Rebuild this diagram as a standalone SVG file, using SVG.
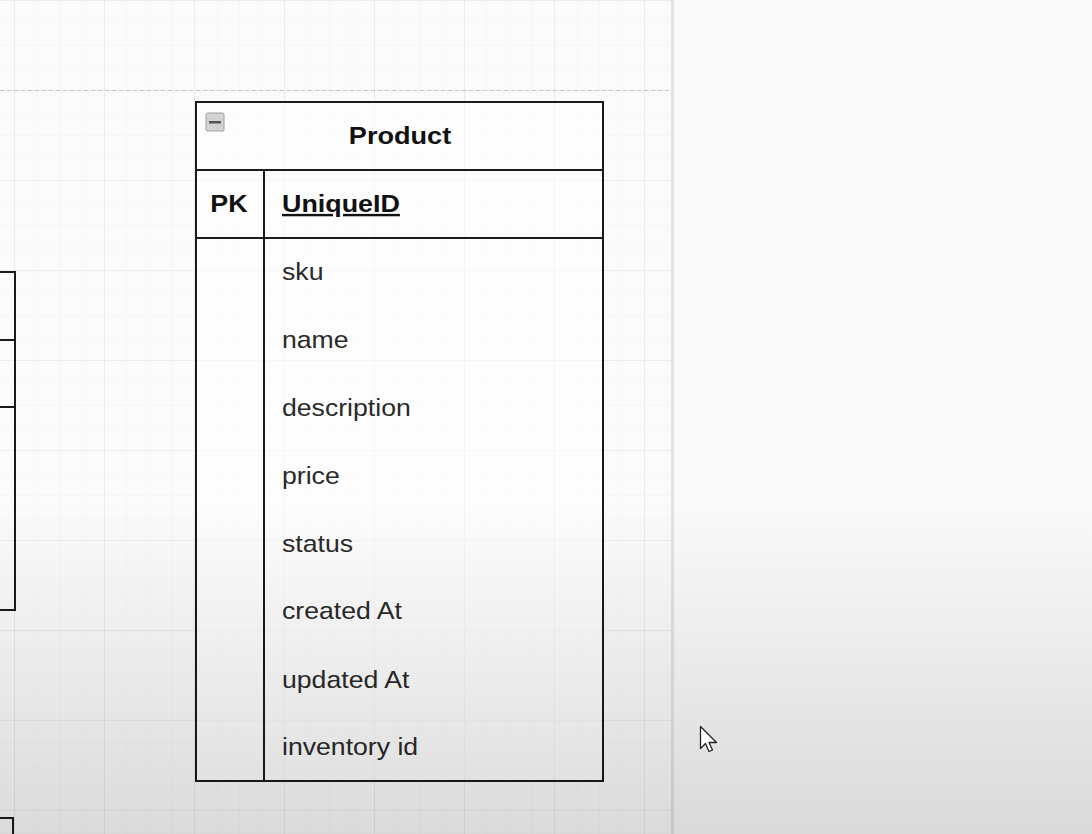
<svg xmlns="http://www.w3.org/2000/svg" width="1092" height="834" viewBox="0 0 1092 834">
  <defs>
    <linearGradient id="shade" x1="0" y1="0" x2="0" y2="1">
      <stop offset="0" stop-color="#000" stop-opacity="0"/>
      <stop offset="0.6" stop-color="#000" stop-opacity="0"/>
      <stop offset="1" stop-color="#000" stop-opacity="0.13"/>
    </linearGradient>
    <pattern id="minor" width="22.5" height="22.5" patternUnits="userSpaceOnUse" x="14" y="0">
      <path d="M0 0V22.5M0 0H22.5" fill="none" stroke="#f2f2f2" stroke-width="1"/>
    </pattern>
    <pattern id="major" width="90" height="90" patternUnits="userSpaceOnUse" x="14" y="0">
      <path d="M0 0V90M0 0H90" fill="none" stroke="#e4e4e4" stroke-width="1.2"/>
    </pattern>
  </defs>
  <style>
    .edge { fill: none; stroke: #1a1a1a; stroke-width: 2; }
    .cell { fill: #fff; fill-opacity: 0.55; stroke: #1a1a1a; stroke-width: 2; }
    .title { font-family: "Liberation Sans", Arial, sans-serif; font-size: 24px; font-weight: bold; fill: #111; }
    .attr { font-family: "Liberation Sans", Arial, sans-serif; font-size: 24px; fill: #2a2a2a; }
  </style>

  <!-- canvas background -->
  <rect x="0" y="0" width="672" height="834" fill="#fbfbfb"/>
  <rect x="0" y="0" width="672" height="834" fill="url(#minor)"/>
  <rect x="0" y="0" width="672" height="834" fill="url(#major)"/>
  <line x1="0" y1="90.5" x2="668" y2="90.5" stroke="#c4c4c4" stroke-width="1" stroke-dasharray="4 3"/>
  <!-- right panel -->
  <rect x="672" y="0" width="420" height="834" fill="#fafafa"/>
  <line x1="672.5" y1="0" x2="672.5" y2="834" stroke="#e3e3e3" stroke-width="3"/>

  <!-- partial table on the left -->
  <g id="left-table">
    <path class="edge" d="M0 272H15V610H0M0 340H15M0 407H15"/>
  </g>
  <g id="left-table-2">
    <path class="edge" d="M0 818H13V834"/>
  </g>

  <!-- Product entity -->
  <g id="product">
    <rect class="cell" x="196" y="102" width="407" height="679"/>
    <path class="edge" d="M196 170H603M196 238H603M264 170V781"/>
    <rect x="206" y="113" width="18" height="18" rx="1.5" fill="#d3d3d3" stroke="#a0a0a0" stroke-width="1"/>
    <rect x="209" y="121" width="12" height="2.5" fill="#555"/>
    <g transform="translate(400 0) scale(1.13 1)">
      <text class="title" x="0" y="144" text-anchor="middle">Product</text>
    </g>
    <g transform="translate(229 0) scale(1.12 1)">
      <text class="title" x="0" y="212" text-anchor="middle">PK</text>
    </g>
    <g transform="translate(282 0) scale(1.12 1)">
      <text class="title" x="0" y="212" text-decoration="underline">UniqueID</text>
    </g>
    <g transform="translate(282 0) scale(1.11 1)">
      <text class="attr" x="0" y="280">sku</text>
      <text class="attr" x="0" y="348">name</text>
      <text class="attr" x="0" y="416">description</text>
      <text class="attr" x="0" y="484">price</text>
      <text class="attr" x="0" y="552">status</text>
      <text class="attr" x="0" y="619">created At</text>
      <text class="attr" x="0" y="688">updated At</text>
      <text class="attr" x="0" y="755">inventory id</text>
    </g>
  </g>

  <g id="connectors"></g>

  <!-- bottom shading -->
  <rect x="0" y="0" width="1092" height="834" fill="url(#shade)"/>

  <!-- mouse cursor -->
  <path d="M700.5 726.5V748.5L705.5 743.5L709 751.5L712.5 750L709 742.5L716.5 742.5Z" fill="#fff" stroke="#222" stroke-width="1.3" stroke-linejoin="round"/>
</svg>
